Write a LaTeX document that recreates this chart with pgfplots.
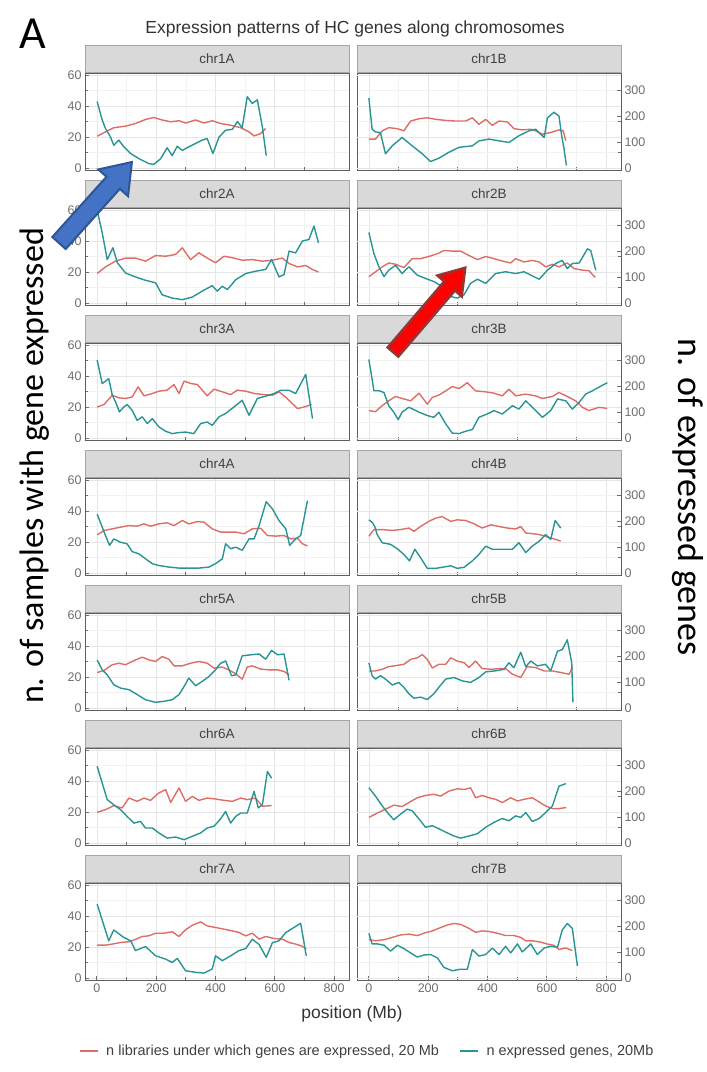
\documentclass[border=0pt]{standalone}
\usepackage{pgfplots}
\pgfplotsset{compat=1.18}
\usepackage{fontspec}
\setmainfont{Liberation Sans}
\newfontfamily\calibri{Carlito}
\definecolor{redc}{HTML}{DC6E67}
\definecolor{tealc}{HTML}{2A9494}
\definecolor{stripfill}{HTML}{D9D9D9}
\definecolor{stripdraw}{HTML}{A6A6A6}
\definecolor{framec}{HTML}{5F5F5F}
\definecolor{tickc}{HTML}{6E6E6E}
\definecolor{gridmaj}{HTML}{E6E6E6}
\definecolor{gridmin}{HTML}{F2F2F2}
\definecolor{bluefill}{HTML}{4472C4}
\definecolor{blueedge}{HTML}{2F5597}
\definecolor{redfill}{HTML}{FF0000}
\definecolor{rededge}{HTML}{943634}
\newcommand{\ticksize}{\fontsize{12.5}{14}\selectfont}
\pgfplotsset{
  every axis title shift=0pt,
  panel/.style={anchor=north west, width=264pt, height=97pt, scale only axis,
    xmin=-40, xmax=850, ymin=-1.3, ymax=61.3,
    axis line style={draw=framec, line width=0.9pt},
    xtick={0,200,400,600,800}, minor xtick={100,300,500,700},
    xmajorgrids, xminorgrids, xminorticks=false, xtick pos=bottom,
    major grid style={draw=gridmaj, line width=0.7pt},
    minor grid style={draw=gridmin, line width=0.5pt},
    tick style={draw=tickc, line width=0.8pt}, major tick length=4pt,
    ticklabel style={font=\ticksize, text=tickc},
    /pgf/number format/assume math mode=true,
    title style={at={(0.5,1)}, anchor=south, yshift=0pt, fill=stripfill, draw=stripdraw,
      line width=0.8pt, minimum width=264pt, minimum height=27pt, inner sep=0pt,
      font=\fontsize{13.5}{15}\selectfont, text=black!75},
    every axis plot/.append style={line width=1.4pt, no marks, line join=round},
  },
  leftp/.style={panel, ytick={0,20,40,60}, minor ytick={10,30,50}, ymajorgrids, yminorgrids,
    yminorticks=false, ytick pos=left},
  rightp/.style={panel, ytick={0,16.6667,33.3333,50}, yticklabels={0,100,200,300},
    ytick pos=right, yticklabel pos=right, minor ytick={10,30,50}, yminorgrids, yminorticks=false,
    extra y ticks={0,20,40,60}, extra y tick labels={},
    extra y tick style={grid=major, major tick length=0pt}},
  uprow/.style={xmajorticks=false, xticklabels={}},
  red/.style={redc},
  teal/.style={tealc, y filter/.expression={y/6}},
}
\begin{document}
\begin{tikzpicture}
\path[use as bounding box] (0,0) rectangle (707pt,-1072pt);
% ---------- row 1 ----------
\begin{axis}[leftp, uprow, at={(85pt,-73pt)}, title={chr1A}]
\addplot[red] coordinates {(1,20.5)(29,23.3)(57,26)(97,27)(130,28.7)(164,31.3)(192,32.6)(220,31)(249,29.8)(277,30.5)(299,29)(333,31)(361,29)(389,30.5)(417,28.7)(451,27.6)(485,26)(513,23.3)(530,20.7)(552,22.2)(569,25.5)};
\addplot[teal] coordinates {(1,257)(18,186)(29,153)(46,120)(57,88)(74,108)(91,82)(114,56)(142,36)(175,17)(192,14)(215,36)(237,78)(254,48)(271,84)(288,68)(310,82)(333,95)(355,108)(372,114)(391,56)(412,120)(434,146)(457,150)(474,180)(490,156)(507,276)(524,250)(541,264)(558,159)(571,48)};
\end{axis}
\begin{axis}[rightp, uprow, at={(357pt,-73pt)}, title={chr1B}]
\addplot[red] coordinates {(0,18.6)(22,18.6)(45,24)(67,26)(96,25.4)(118,24)(141,30.3)(169,31.8)(197,32.4)(225,31.4)(259,30.7)(292,30.3)(326,30.3)(349,32.4)(371,28.2)(394,31.4)(416,27.5)(439,30.3)(467,29.7)(489,25.4)(517,24.6)(546,25)(562,24)(585,21.8)(613,22.9)(641,24.6)(655,24)(664,17.6)};
\addplot[teal] coordinates {(0,271)(11,150)(22,140)(39,137)(56,55)(79,86)(112,118)(146,86)(180,55)(208,25)(236,38)(270,61)(304,80)(349,86)(371,105)(405,112)(439,105)(472,99)(506,125)(540,144)(562,150)(579,131)(591,118)(602,194)(624,216)(641,201)(650,125)(658,74)(666,10)};
\end{axis}
% ---------- row 2 ----------
\begin{axis}[leftp, uprow, at={(85pt,-208pt)}, title={chr2A}]
\addplot[red] coordinates {(1,19)(29,23.3)(63,27)(97,29)(130,29)(164,27)(198,30.6)(232,30.2)(265,31.3)(288,35.6)(316,28)(344,32.4)(372,29)(400,26)(429,30.2)(462,29)(490,27.6)(524,28)(558,27)(592,27.6)(625,29)(648,25.5)(676,23.3)(704,24.2)(727,21.6)(747,20)};
\addplot[teal] coordinates {(1,360)(18,272)(35,168)(54,214)(69,156)(97,116)(130,101)(164,88)(198,78)(220,32)(254,19)(288,13)(322,23)(355,46)(389,67)(406,46)(423,65)(440,52)(468,90)(502,114)(535,123)(569,130)(589,168)(614,101)(631,110)(648,201)(670,194)(693,240)(715,246)(732,298)(747,233)};
\end{axis}
\begin{axis}[rightp, uprow, at={(357pt,-208pt)}, title={chr2B}]
\addplot[red] coordinates {(0,17)(22,20)(45,23.3)(67,25.8)(90,25)(118,22.9)(146,28.6)(174,28.6)(202,30)(231,31.8)(253,33.9)(281,33.5)(309,33.5)(337,30.7)(366,28)(394,30)(422,28.6)(450,27.1)(478,25.8)(495,28.6)(523,26.5)(551,27.5)(574,26.5)(596,23.3)(619,25)(641,23.3)(669,25.8)(692,22.2)(720,21.2)(742,20.8)(763,16.5)};
\addplot[teal] coordinates {(0,273)(17,191)(34,140)(51,102)(67,127)(90,146)(112,114)(135,140)(163,108)(191,95)(219,83)(247,64)(276,25)(298,19)(321,32)(343,76)(366,92)(394,76)(427,114)(461,121)(495,114)(523,121)(546,108)(574,92)(602,127)(630,153)(652,165)(669,133)(686,153)(709,155)(737,210)(748,203)(765,127)};
\end{axis}
% ---------- row 3 ----------
\begin{axis}[leftp, uprow, at={(85pt,-343pt)}, title={chr3A}]
\addplot[red] coordinates {(1,20)(24,21.6)(52,27.6)(74,25.9)(97,25.5)(119,26.5)(139,33)(159,27.2)(187,28.7)(209,30.2)(237,30.9)(260,34.5)(277,28.7)(294,36.7)(316,35.2)(339,34.5)(372,27.2)(395,31.5)(423,29.8)(451,28)(474,30.9)(502,30.2)(530,28.7)(564,28)(592,27.6)(614,29.8)(636,26.5)(659,22.2)(676,19)(699,20)(724,21.6)};
\addplot[teal] coordinates {(1,302)(18,211)(29,220)(40,230)(52,166)(63,140)(76,101)(91,120)(102,130)(119,107)(136,68)(153,82)(170,56)(187,75)(209,43)(232,26)(254,17)(277,21)(299,23)(327,17)(350,56)(372,62)(389,49)(412,82)(434,95)(462,120)(490,146)(513,88)(541,153)(569,162)(597,172)(620,185)(648,185)(670,172)(704,246)(727,75)};
\end{axis}
\begin{axis}[rightp, uprow, at={(357pt,-343pt)}, title={chr3B}]
\addplot[red] coordinates {(0,17.7)(22,17)(45,20.9)(67,24)(90,26.8)(112,25.5)(141,24)(169,28.9)(197,21.9)(214,26.2)(236,27.7)(259,30.4)(281,33.2)(304,31.9)(332,35.7)(360,30.4)(394,29.8)(422,28.9)(450,27.2)(472,31.5)(495,27.2)(529,28.3)(562,27.2)(585,25.5)(619,26.8)(641,29.4)(675,26.2)(697,24)(720,19.8)(742,17.7)(776,19.8)(804,19.1)};
\addplot[teal] coordinates {(0,304)(11,227)(17,183)(34,183)(51,176)(67,125)(84,100)(99,71)(112,100)(135,119)(169,100)(197,87)(219,80)(236,100)(259,55)(281,19)(304,17)(326,26)(349,33)(371,80)(399,93)(422,106)(450,93)(484,125)(506,112)(529,144)(551,119)(585,80)(613,106)(636,151)(664,144)(686,112)(709,138)(731,170)(754,183)(787,204)(804,214)};
\end{axis}
% ---------- row 4 ----------
\begin{axis}[leftp, uprow, at={(85pt,-478pt)}, title={chr4A}]
\addplot[red] coordinates {(1,24.6)(24,27.4)(52,28.5)(80,29.6)(108,30.6)(136,30.2)(159,31.7)(181,30.2)(209,31.7)(237,32.4)(260,30.6)(288,33.9)(310,31.7)(339,33.2)(361,32.8)(389,28.5)(417,26.4)(440,26.4)(468,26.4)(496,25.3)(524,28.5)(552,28.9)(575,24.2)(603,23.8)(631,24.2)(654,22)(676,22.5)(693,18.9)(710,17.4)};
\addplot[teal] coordinates {(1,228)(18,178)(29,145)(43,107)(57,132)(80,119)(102,113)(119,83)(142,74)(164,55)(187,36)(209,29)(243,23)(277,19)(310,19)(344,19)(378,23)(400,36)(423,55)(434,113)(451,94)(468,100)(490,88)(513,132)(530,132)(547,184)(571,276)(592,248)(614,203)(637,171)(650,107)(670,132)(687,145)(710,280)};
\end{axis}
\begin{axis}[rightp, uprow, at={(357pt,-478pt)}, title={chr4B}]
\addplot[red] coordinates {(0,23.7)(17,28)(45,28)(79,27.5)(107,28)(135,29)(152,26.9)(174,30)(202,33.3)(225,35.4)(247,36.4)(276,33.3)(298,34.3)(326,33.9)(354,31.8)(382,29)(411,31.1)(439,30)(467,29)(495,28.4)(512,30)(529,25.8)(551,25.4)(574,24.8)(602,23.3)(624,22)(647,20.6)};
\addplot[teal] coordinates {(0,206)(11,196)(20,180)(28,149)(45,117)(73,111)(96,94)(118,72)(137,47)(155,92)(174,60)(197,18)(225,18)(247,22)(276,28)(298,18)(321,22)(349,47)(371,72)(394,104)(416,92)(450,92)(484,92)(506,117)(529,79)(551,104)(574,123)(596,149)(613,130)(628,203)(647,174)};
\end{axis}
% ---------- row 5 ----------
\begin{axis}[leftp, uprow, at={(85pt,-613pt)}, title={chr5A}]
\addplot[red] coordinates {(1,22.9)(24,24.2)(52,27.9)(74,28.9)(97,27.9)(125,30.6)(153,32.8)(175,31.1)(198,30)(220,33.2)(243,31.5)(260,27.2)(288,27.2)(316,28.9)(344,30)(372,28.9)(395,25.7)(423,26.4)(445,24.6)(468,22.1)(490,18.6)(507,26.4)(524,27.2)(552,25.1)(580,24.6)(609,24.6)(631,23.6)(648,21.4)};
\addplot[teal] coordinates {(1,186)(18,148)(35,128)(57,90)(80,77)(108,71)(136,52)(164,32)(198,22)(226,26)(254,32)(277,52)(294,83)(310,116)(333,86)(355,103)(378,122)(400,148)(417,173)(434,182)(454,125)(468,128)(490,202)(519,206)(547,209)(569,189)(589,223)(609,206)(631,209)(648,107)};
\end{axis}
\begin{axis}[rightp, uprow, at={(357pt,-613pt)}, title={chr5B}]
\addplot[red] coordinates {(0,23.9)(22,23.9)(45,25)(67,26.7)(96,27.5)(118,28.2)(141,31.4)(163,32.4)(180,34.5)(197,31.4)(214,25.8)(236,28.2)(259,28.2)(276,32.4)(298,30.3)(321,29.2)(337,26.1)(360,30.3)(382,25.4)(411,25)(439,25.4)(461,25.4)(484,21.8)(512,19.7)(534,26.7)(562,26.1)(591,23.9)(619,23.9)(647,22.9)(675,21.8)(686,26.1)};
\addplot[teal] coordinates {(0,175)(11,125)(22,112)(39,125)(56,112)(79,89)(101,99)(118,80)(135,55)(152,38)(174,42)(197,33)(219,55)(236,80)(259,112)(287,118)(315,105)(343,99)(371,118)(394,140)(427,144)(456,150)(472,175)(489,156)(512,216)(529,160)(546,182)(568,163)(596,169)(613,144)(636,220)(652,226)(669,264)(684,175)(688,23)};
\end{axis}
% ---------- row 6 ----------
\begin{axis}[leftp, uprow, at={(85pt,-748pt)}, title={chr6A}]
\addplot[red] coordinates {(1,19.8)(29,21.5)(57,24.1)(85,22.6)(108,29)(136,26.9)(159,29)(181,27.5)(209,32.3)(232,34.4)(249,26.2)(277,35.5)(299,26.9)(322,30.1)(344,27.5)(372,29)(400,28.4)(429,27.5)(457,26.9)(485,29)(507,28)(535,29)(558,23.7)(589,24.1)};
\addplot[teal] coordinates {(1,297)(18,232)(35,168)(57,148)(80,129)(102,103)(125,77)(147,84)(164,58)(187,58)(209,39)(237,19)(265,23)(294,13)(322,26)(350,39)(372,58)(395,65)(417,93)(434,122)(451,77)(468,103)(485,116)(507,116)(530,200)(544,136)(558,148)(575,277)(589,251)};
\end{axis}
\begin{axis}[rightp, uprow, at={(357pt,-748pt)}, title={chr6B}]
\addplot[red] coordinates {(0,16.5)(28,19.3)(56,21.8)(84,24.4)(112,23.5)(135,26.1)(163,29.2)(191,30.7)(219,31.4)(242,30.3)(270,33.5)(298,35)(321,34.5)(343,35.6)(360,29.2)(382,30.7)(405,29.2)(427,28.2)(450,26.1)(478,29.2)(501,27.1)(523,28.2)(551,29.2)(574,26.5)(596,23.9)(619,22.2)(641,22.2)(666,22.9)};
\addplot[teal] coordinates {(0,214)(22,182)(45,144)(67,112)(84,90)(107,112)(129,131)(146,125)(169,93)(191,61)(214,67)(236,55)(259,42)(287,27)(309,19)(337,27)(366,36)(394,61)(422,80)(450,95)(472,86)(495,105)(512,99)(529,118)(551,83)(574,95)(596,118)(619,144)(641,220)(664,230)};
\end{axis}
% ---------- row 7 ----------
\begin{axis}[leftp, at={(85pt,-883pt)}, title={chr7A},
  legend style={at={(1.08,-0.732)}, anchor=center, draw=none, fill=none,
    font=\fontsize{14.5}{16}\selectfont, text=black!75, legend columns=2,
    /tikz/every even column/.append style={column sep=12pt},
    /tikz/every odd column/.append style={column sep=0pt},
    nodes={inner xsep=8pt}},
  legend image code/.code={\draw[#1, line width=1.4pt] (0pt,0pt) -- (18pt,0pt);}]
\addplot[red] coordinates {(1,21.2)(29,21.2)(52,21.9)(80,22.9)(108,23.4)(133,25.1)(153,26.8)(175,27.2)(198,28.9)(226,28.9)(254,29.8)(277,26.8)(299,31.1)(322,34.1)(350,36.2)(372,33.6)(400,32.6)(429,31.5)(457,30.4)(479,29.4)(502,27.2)(524,28.9)(547,25.1)(569,26.8)(597,25.5)(625,25.1)(648,22.9)(670,21.9)(693,20.4)(706,18.6)};
\addlegendentry{n libraries under which genes are expressed, 20 Mb}
\addplot[teal] coordinates {(1,286)(40,144)(57,186)(91,157)(114,144)(130,106)(164,122)(198,86)(232,73)(254,60)(271,76)(299,28)(333,22)(361,19)(389,35)(400,86)(423,67)(451,86)(479,106)(502,114)(524,150)(547,130)(571,80)(592,137)(614,144)(637,176)(665,196)(687,212)(706,86)};
\addlegendentry{n expressed genes, 20Mb}
\end{axis}
\begin{axis}[rightp, at={(357pt,-883pt)}, title={chr7B}]
\addplot[red] coordinates {(0,24.7)(22,24)(51,24.7)(79,26.2)(107,27.8)(135,28.3)(163,27.4)(186,28.9)(214,30.4)(236,32.1)(264,34.2)(287,35.2)(309,34.6)(337,32.1)(360,29.5)(382,30.4)(405,30)(433,28.9)(461,27.4)(489,27.4)(512,26.2)(529,24)(551,24)(579,23.2)(602,21.9)(624,21.1)(641,18.4)(664,19.4)(686,17.7)};
\addplot[teal] coordinates {(0,173)(11,132)(28,132)(51,127)(73,104)(96,127)(118,114)(141,97)(163,81)(186,89)(208,91)(231,78)(253,41)(281,28)(309,34)(332,34)(349,110)(371,85)(394,91)(416,116)(439,91)(461,123)(478,97)(501,132)(517,101)(546,132)(568,91)(591,116)(613,123)(636,119)(652,186)(669,211)(686,192)(703,47)};
\end{axis}
% ---------- texts ----------
\node[font=\fontsize{17.5}{20}\selectfont, text=black!80] at (355pt,-29pt) {Expression patterns of HC genes along chromosomes};
\node[font=\fontsize{17.5}{20}\selectfont, text=black!80] at (352pt,-1014pt) {position (Mb)};
\node[font=\calibri\fontsize{46}{50}\selectfont] at (33pt,-34pt) {A};
\node[font=\calibri\fontsize{34}{38}\selectfont, rotate=90] at (35pt,-466pt) {n. of samples with gene expressed};
\node[font=\calibri\fontsize{36}{40}\selectfont, rotate=-90] at (688pt,-497pt) {n. of expressed genes};
% ---------- arrows ----------
\begin{scope}[shift={(59pt,-243pt)}, rotate=48]
\draw[fill=bluefill, draw=blueedge, line width=2pt] (0pt,-9pt) -- (81pt,-9pt) -- (81pt,-20pt) -- (109pt,0pt) -- (81pt,20pt) -- (81pt,9pt) -- (0pt,9pt) -- cycle;
\end{scope}
\begin{scope}[shift={(393pt,-352pt)}, rotate=49.4]
\draw[fill=redfill, draw=rededge, line width=2.5pt] (0pt,-7pt) -- (87pt,-7pt) -- (87pt,-16pt) -- (111pt,0pt) -- (87pt,16pt) -- (87pt,7pt) -- (0pt,7pt) -- cycle;
\end{scope}
\end{tikzpicture}
\end{document}
